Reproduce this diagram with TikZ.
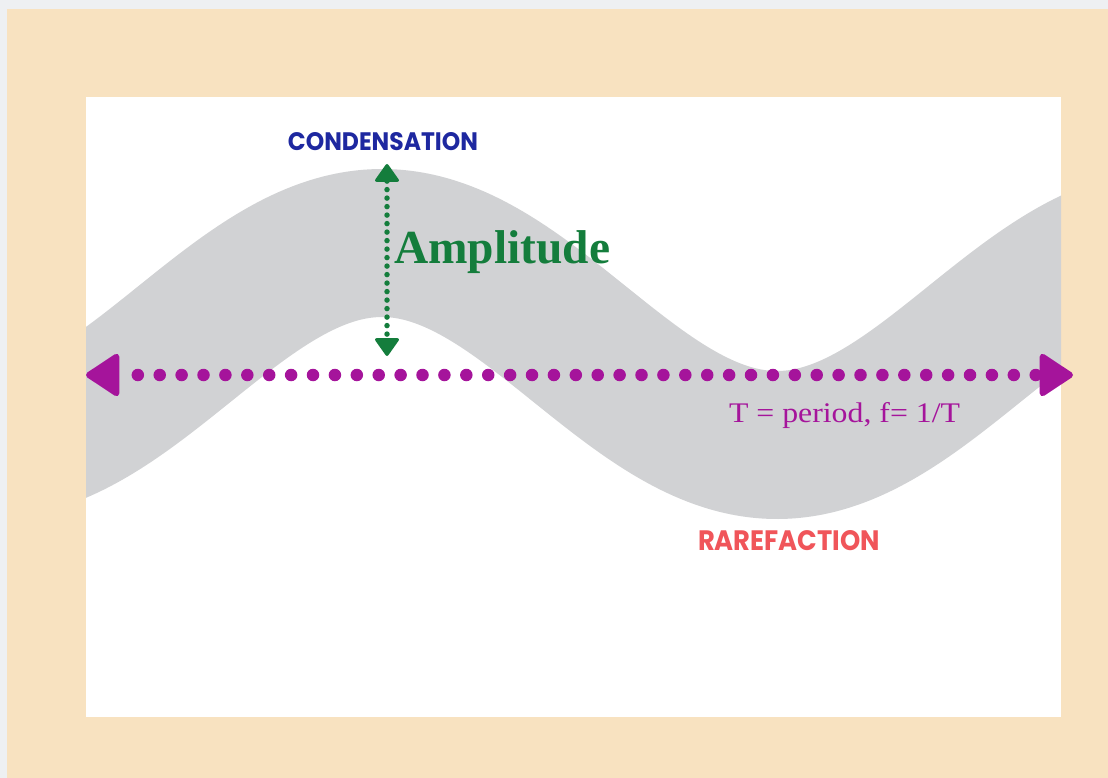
\documentclass[tikz,border=0pt]{standalone}
\usepackage{fontspec}
\usepackage{graphicx}
\usetikzlibrary{arrows.meta}
\setmainfont{Liberation Serif}
\newfontfamily\popfont{Poppins}
\definecolor{topgray}{HTML}{EEF0F2}
\definecolor{beige}{HTML}{F8E2C0}
\definecolor{bandgray}{HTML}{D1D2D4}
\definecolor{condblue}{HTML}{1E28A0}
\definecolor{ampgreen}{HTML}{147D3C}
\definecolor{perpurple}{HTML}{A5149B}
\definecolor{rarered}{HTML}{F0555A}
\tikzset{
  purpdots/.style={perpurple, line width=12.5pt, line cap=round,
    dash pattern=on 0pt off 21.9pt, dash phase=2pt,
    {Triangle[round, line width=6pt, length=36pt, width=46pt]}-{Triangle[round, line width=6pt, length=36pt, width=46pt]}},
  greendots/.style={ampgreen, line width=5.5pt, line cap=round,
    dash pattern=on 0pt off 8.5pt,
    {Triangle[round, line width=3pt, length=19pt, width=26pt]}-{Triangle[round, line width=3pt, length=19pt, width=26pt]}},
  lbl/.style={inner sep=0pt, outer sep=0pt}
}
\begin{document}
\begin{tikzpicture}[x=1pt,y=-1pt]
\useasboundingbox (0,0) rectangle (1108,778);
\fill[topgray] (0,0) rectangle (1108,778);
\fill[beige] (7,9) rectangle (1108,778);
\fill[white] (86,97) rectangle (1061,717);
\begin{scope}
  \clip (86,97) rectangle (1061,717);
  \draw[bandgray, line width=148pt] plot[domain=20:1120, samples=300, smooth] (\x, {344-101*cos(0.455696*(\x-382))});
\end{scope}
% period arrow
\coordinate (pl) at (86,375);
\coordinate (pr) at (1073,375);
\draw[purpdots] (pl) -- (pr);
% amplitude arrow
\coordinate (gt) at (387,164);
\coordinate (gb) at (387,356);
\draw[greendots] (gt) -- (gb);
% labels
\node[lbl, text=condblue] (cond) at (383,142) {\resizebox{190pt}{18pt}{\popfont\bfseries CONDENSATION}};
\node[lbl, text=ampgreen, anchor=base west] (amp) at (394,263) {\resizebox{216pt}{!}{\bfseries Amplitude}};
\node[lbl, text=perpurple, anchor=base west] (per) at (729,422) {\resizebox{231pt}{20pt}{T = period, f= 1/T}};
\node[lbl, text=rarered] (rare) at (789,541) {\resizebox{182pt}{20pt}{\popfont\bfseries RAREFACTION}};
\end{tikzpicture}
\end{document}
